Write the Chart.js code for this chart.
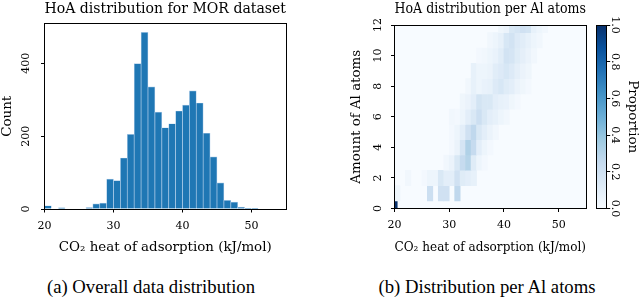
<!DOCTYPE html>
<html>
<head>
<meta charset="utf-8">
<script src="https://cdn.jsdelivr.net/npm/chart.js@4.4.1/dist/chart.umd.min.js"></script>
<style>
  html, body { margin: 0; padding: 0; background: #fff; }
  #wrap { position: relative; width: 640px; height: 301px; overflow: hidden; }
  canvas { position: absolute; top: 0; }
  .cap { position: absolute; top: 278px; font-family: "Liberation Serif", serif; font-size: 18.7px; line-height: 1; color: #000; white-space: nowrap; transform: translateX(-50%); }
</style>
</head>
<body>
<div id="wrap">
  <canvas id="hist" width="310" height="262" style="left:0"></canvas>
  <canvas id="heat" width="260" height="262" style="left:330px"></canvas>
  <canvas id="cbar" width="50" height="262" style="left:590px"></canvas>
  <div class="cap" style="left:151px">(a) Overall data distribution</div>
  <div class="cap" style="left:487px">(b) Distribution per Al atoms</div>
</div>
<script>
const $ = (id) => document.getElementById(id);

// histogram: left edge of each 1 kJ/mol bin and its count
const binStarts = [20, 21, 22, 23, 24, 25, 26, 27, 28, 29, 30, 31, 32, 33, 34, 35, 36, 37,
    38, 39, 40, 41, 42, 43, 44, 45, 46, 47, 48, 49, 50, 51, 52, 53, 54];
const binCounts = [9, 0, 3, 0, 0, 0, 4, 14, 16, 82, 78, 140, 205, 399, 485, 335, 266, 223,
    234, 269, 285, 324, 291, 208, 143, 72, 24, 19, 5, 2, 1, 0, 0, 0, 0];
const countMax = 509;
const countTicks = 200;

// heatmap: one row per Al count, first bin edge of the row, proportions per 1 kJ/mol bin
const alAtoms = [0, 1, 2, 3, 4, 5, 6, 7, 8, 9, 10, 11, 12];
const heatStart = [19.5, 20, 22, 29, 30, 30, 30, 32, 33, 34, 35, 37, 39];
const heatValues = [
    [1.0],
    [0.04, 0, 0, 0, 0, 0, 0.22, 0, 0.2, 0.2, 0, 0.27],
    [0.03, 0, 0, 0.02, 0.05, 0.05, 0.15, 0.1, 0.1, 0.2, 0.12, 0.1, 0.08],
    [0.03, 0.06, 0.15, 0.25, 0.3, 0.12, 0.05, 0.02],
    [0.02, 0.06, 0.17, 0.32, 0.25, 0.1, 0.05, 0.02],
    [0.02, 0.05, 0.1, 0.2, 0.27, 0.15, 0.1, 0.06, 0.03],
    [0.03, 0.02, 0.05, 0.1, 0.15, 0.22, 0.15, 0.1, 0.08, 0.05, 0.03],
    [0.04, 0.06, 0.1, 0.18, 0.15, 0.15, 0.1, 0.08, 0.07, 0.04, 0.02],
    [0.03, 0.08, 0.05, 0.07, 0.08, 0.13, 0.16, 0.12, 0.1, 0.06, 0.04, 0.02],
    [0.08, 0.05, 0.05, 0.06, 0.11, 0.13, 0.16, 0.13, 0.09, 0.06, 0.04],
    [0.02, 0.03, 0.05, 0.07, 0.11, 0.19, 0.17, 0.12, 0.09, 0.06, 0.03],
    [0.03, 0.05, 0.08, 0.16, 0.19, 0.13, 0.11, 0.08, 0.05, 0.03],
    [0.04, 0.06, 0.15, 0.17, 0.2, 0.18, 0.08, 0.05, 0.03]
];

// matplotlib "Blues"
const bluesStops = ["#f7fbff", "#deebf7", "#c6dbef", "#9ecae1", "#6baed6",
    "#4292c6", "#2171b5", "#08519c", "#08306b"];

function hexRgb(h) {
    return [1, 3, 5].map(i => parseInt(h.slice(i, i + 2), 16));
}

function blues(v) {
    const t = Math.max(0, Math.min(1, v)) * (bluesStops.length - 1);
    const i = Math.min(Math.floor(t), bluesStops.length - 2);
    const f = t - i;
    const a = hexRgb(bluesStops[i]);
    const b = hexRgb(bluesStops[i + 1]);
    const c = a.map((x, k) => Math.round(x + (b[k] - x) * f));
    return `rgb(${c[0]},${c[1]},${c[2]})`;
}

Chart.defaults.font.family = "'DejaVu Serif', serif";
Chart.defaults.font.size = 11;
Chart.defaults.color = "#000";

const labelFont = { size: 13.4 };

const pin = (size) => (scale) => {
    if (scale.isHorizontal()) scale.height = size;
    else scale.width = size;
};

const tickGrid = {
    drawOnChartArea: false,
    drawTicks: true,
    tickLength: 3.5,
    tickColor: "#000",
    tickWidth: 1,
    offset: false
};

const frame = {
    id: "frame",
    afterDraw(chart) {
        const { ctx, chartArea: a } = chart;
        const l = Math.floor(a.left) + 0.5, r = Math.floor(a.right) + 0.5;
        const t = Math.floor(a.top) + 0.5, b = Math.floor(a.bottom) + 0.5;
        ctx.save();
        ctx.strokeStyle = "#000";
        ctx.lineWidth = 1;
        ctx.strokeRect(l, t, r - l, b - t);
        ctx.restore();
    }
};

const heatBg = {
    id: "heatBg",
    beforeDatasetsDraw(chart) {
        const { ctx, chartArea: a } = chart;
        ctx.save();
        ctx.fillStyle = blues(0);
        ctx.fillRect(a.left, a.top, a.right - a.left, a.bottom - a.top);
        ctx.restore();
    }
};

const noLegend = { legend: { display: false }, tooltip: { enabled: false } };

function plotTitle(text, top, bottom) {
    return {
        display: true, text, fullSize: false, color: "#000",
        font: { size: 15.2, weight: "normal" },
        padding: { top, bottom }
    };
}

function xAxis(height) {
    return {
        type: "linear", min: 20, max: 55, offset: false,
        grid: tickGrid, border: { display: false },
        ticks: { stepSize: 10, includeBounds: false, padding: 7, maxRotation: 0 },
        title: { display: true, text: "CO₂ heat of adsorption (kJ/mol)", font: labelFont, padding: { top: 0, bottom: 6 } },
        afterFit: pin(height)
    };
}

// (a) histogram
new Chart($("hist"), {
    type: "bar",
    data: {
        datasets: [{
            data: binStarts.map((s, i) => ({ x: s + 0.5, y: binCounts[i] || null })),
            backgroundColor: "#1f77b4",
            borderColor: "#a9c9e6",
            borderWidth: 0.7,
            barPercentage: 1,
            categoryPercentage: 1
        }]
    },
    options: {
        responsive: false,
        animation: false,
        layout: { padding: { left: 0, right: 24, top: 0, bottom: 0 } },
        plugins: { ...noLegend, title: plotTitle("HoA distribution for MOR dataset", 0, 5.3) },
        scales: {
            x: xAxis(53),
            y: {
                min: 0, max: countMax,
                grid: tickGrid, border: { display: false },
                ticks: { stepSize: countTicks, includeBounds: false, minRotation: 90, crossAlign: "center", padding: 4.5 },
                title: { display: true, text: "Count", font: labelFont, padding: { top: -1, bottom: 0 } },
                afterFit: pin(44.5)
            }
        }
    },
    plugins: [frame]
});

// (b) heatmap
const cells = [];
const cellColors = [];
alAtoms.forEach((n, r) => {
    heatValues[r].forEach((v, i) => {
        if (v <= 0) return;
        const x0 = heatStart[r] + i;
        cells.push({ y: n, x: [x0, x0 + 1] });
        cellColors.push(blues(v));
    });
});

new Chart($("heat"), {
    type: "bar",
    data: {
        datasets: [{
            data: cells,
            backgroundColor: cellColors,
            borderWidth: 0,
            barPercentage: 1,
            categoryPercentage: 1,
            clip: 0
        }]
    },
    options: {
        indexAxis: "y",
        responsive: false,
        animation: false,
        layout: { padding: { left: 0, right: 4, top: 0, bottom: 0 } },
        plugins: { ...noLegend, title: plotTitle("HoA distribution per Al atoms", 0, 6.8) },
        scales: {
            x: xAxis(53.5),
            y: {
                type: "linear", min: 0, max: 12, offset: false,
                grid: tickGrid, border: { display: false },
                ticks: { stepSize: 2, includeBounds: false, minRotation: 90, crossAlign: "center", padding: 6 },
                title: { display: true, text: "Amount of Al atoms", font: labelFont, padding: { top: 18.7, bottom: 0 } },
                afterFit: pin(64.5)
            }
        }
    },
    plugins: [heatBg, frame]
});

// colour bar
new Chart($("cbar"), {
    type: "bar",
    data: {
        labels: [""],
        datasets: [{
            data: [[0, 1]],
            backgroundColor: (c) => {
                const a = c.chart.chartArea;
                if (!a) return bluesStops[0];
                const g = c.chart.ctx.createLinearGradient(0, a.bottom, 0, a.top);
                bluesStops.forEach((col, i) => g.addColorStop(i / (bluesStops.length - 1), col));
                return g;
            },
            borderWidth: 0,
            barPercentage: 1,
            categoryPercentage: 1,
            clip: 0
        }]
    },
    options: {
        responsive: false,
        animation: false,
        layout: { padding: { left: 6, right: 0, top: 25, bottom: 53.5 } },
        plugins: noLegend,
        scales: {
            x: { display: false },
            y: {
                position: "right", min: 0, max: 1,
                grid: tickGrid, border: { display: false },
                ticks: { stepSize: 0.2, includeBounds: false, minRotation: -90, crossAlign: "center", padding: -4,
                    callback: (v) => Number(v).toFixed(1) },
                title: { display: true, text: "Proportion", font: labelFont, padding: { top: -1, bottom: 0 } },
                afterFit: pin(33.3)
            }
        }
    },
    plugins: [frame]
});
</script>
</body>
</html>
